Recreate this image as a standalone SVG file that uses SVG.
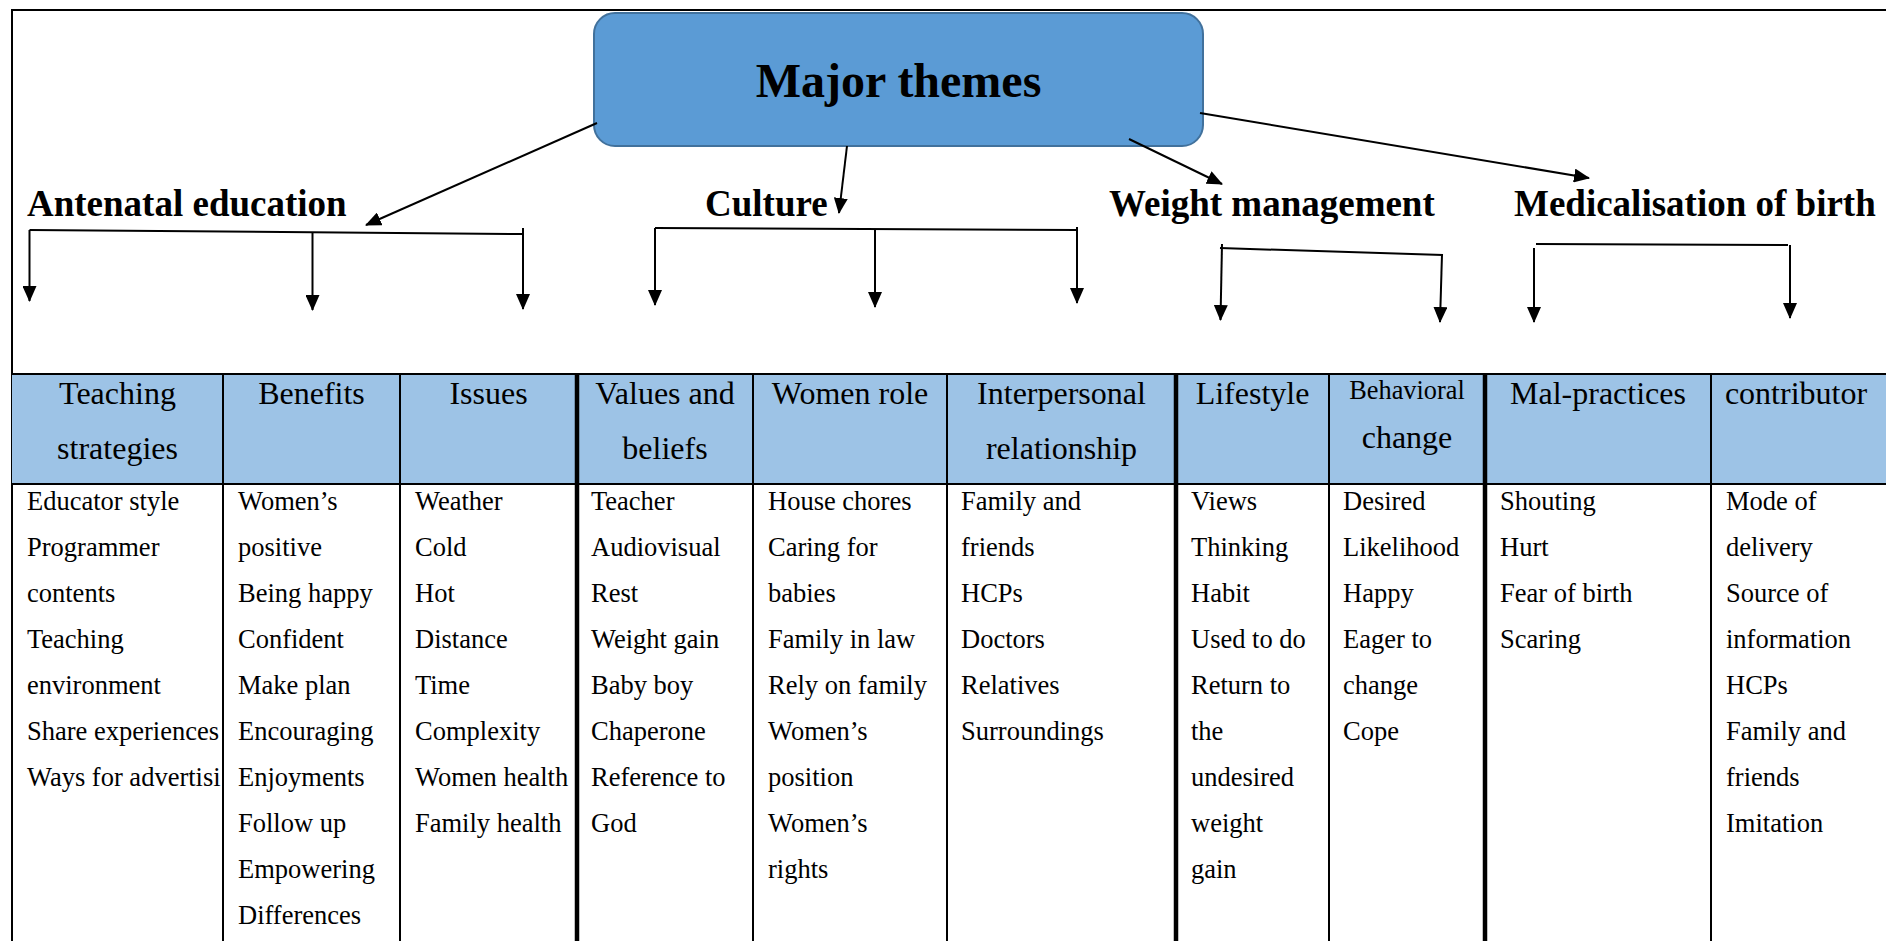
<svg xmlns="http://www.w3.org/2000/svg" width="1886" height="941" viewBox="0 0 1886 941">
<style>
text{font-family:"Liberation Serif","Times New Roman",serif;fill:#000}
.theme{font-size:37px;font-weight:bold}
.hd{font-size:32px;text-anchor:middle}
.bd{font-size:26.5px}
.ln{stroke:#000;stroke-width:2;fill:none}
.thin{stroke:#000;stroke-width:2}
.thick{stroke:#000;stroke-width:4.5}
</style>
<defs>
<marker id="ah" markerUnits="userSpaceOnUse" markerWidth="16" markerHeight="14" viewBox="0 0 16 14" refX="15" refY="7" orient="auto">
<path d="M0,0 L16,7 L0,14 z" fill="#000"/>
</marker>
</defs>
<rect x="0" y="0" width="1886" height="941" fill="#fff"/>
<g id="frame">
<line class="thin" x1="12" y1="10" x2="1886" y2="10"/>
<line class="thin" x1="12" y1="9" x2="12" y2="941"/>
</g>
<g id="major-themes">
<rect x="594" y="13" width="609" height="133" rx="21" ry="21" fill="#5B9BD5" stroke="#41719C" stroke-width="2"/>
<text x="898.5" y="97" font-size="48" font-weight="bold" text-anchor="middle">Major themes</text>
</g>
<g id="theme-antenatal"><text class="theme" x="27" y="216">Antenatal education</text></g>
<g id="theme-culture"><text class="theme" x="705" y="216">Culture</text></g>
<g id="theme-weight"><text class="theme" x="1109" y="216">Weight management</text></g>
<g id="theme-medicalisation"><text class="theme" x="1514" y="216">Medicalisation of birth</text></g>
<g id="connectors">
<path class="ln" d="M597,123 L366,225" marker-end="url(#ah)"/>
<path class="ln" d="M847,146 L839,213" marker-end="url(#ah)"/>
<path class="ln" d="M1129,139 L1222,184" marker-end="url(#ah)"/>
<path class="ln" d="M1200,113 L1589,178" marker-end="url(#ah)"/>
<path class="ln" d="M29.5,230 L523,234"/>
<path class="ln" d="M29.5,230 L29.5,301" marker-end="url(#ah)"/>
<path class="ln" d="M312.5,232.5 L312.5,310" marker-end="url(#ah)"/>
<path class="ln" d="M523,228 L523,309" marker-end="url(#ah)"/>
<path class="ln" d="M655,228 L1077,230"/>
<path class="ln" d="M655,228 L655,305" marker-end="url(#ah)"/>
<path class="ln" d="M875,229 L875,307" marker-end="url(#ah)"/>
<path class="ln" d="M1077,227 L1077,303" marker-end="url(#ah)"/>
<path class="ln" d="M1220,248 L1443,255"/>
<path class="ln" d="M1222,244 L1220.5,320" marker-end="url(#ah)"/>
<path class="ln" d="M1442,254 L1440,322" marker-end="url(#ah)"/>
<path class="ln" d="M1536,244 L1788,245"/>
<path class="ln" d="M1534,248 L1534,322" marker-end="url(#ah)"/>
<path class="ln" d="M1790,245 L1790,318" marker-end="url(#ah)"/>
</g>
<g id="table">
<rect x="12" y="374" width="1874" height="110" fill="#9DC3E6"/>
<line class="thin" x1="12" y1="374" x2="1886" y2="374"/>
<line class="thin" x1="12" y1="484" x2="1886" y2="484"/>
<line class="thin" x1="223" y1="374" x2="223" y2="941"/>
<line class="thin" x1="400" y1="374" x2="400" y2="941"/>
<line class="thick" x1="577" y1="373" x2="577" y2="941"/>
<line class="thin" x1="753" y1="374" x2="753" y2="941"/>
<line class="thin" x1="947" y1="374" x2="947" y2="941"/>
<line class="thick" x1="1176" y1="373" x2="1176" y2="941"/>
<line class="thin" x1="1329" y1="374" x2="1329" y2="941"/>
<line class="thick" x1="1485" y1="373" x2="1485" y2="941"/>
<line class="thin" x1="1711" y1="374" x2="1711" y2="941"/>
</g>
<g id="col-teaching-strategies">
<text class="hd" x="117.5" y="404">Teaching</text>
<text class="hd" x="117.5" y="459">strategies</text>
<text class="bd" x="27" y="510"><tspan x="27">Educator style</tspan><tspan x="27" dy="46">Programmer</tspan><tspan x="27" dy="46">contents</tspan><tspan x="27" dy="46">Teaching</tspan><tspan x="27" dy="46">environment</tspan><tspan x="27" dy="46">Share experiences</tspan><tspan x="27" dy="46">Ways for advertisi</tspan></text>
</g>
<g id="col-benefits">
<text class="hd" x="311.5" y="404">Benefits</text>
<text class="bd" x="238" y="510"><tspan x="238">Women’s</tspan><tspan x="238" dy="46">positive</tspan><tspan x="238" dy="46">Being happy</tspan><tspan x="238" dy="46">Confident</tspan><tspan x="238" dy="46">Make plan</tspan><tspan x="238" dy="46">Encouraging</tspan><tspan x="238" dy="46">Enjoyments</tspan><tspan x="238" dy="46">Follow up</tspan><tspan x="238" dy="46">Empowering</tspan><tspan x="238" dy="46">Differences</tspan></text>
</g>
<g id="col-issues">
<text class="hd" x="488.5" y="404">Issues</text>
<text class="bd" x="415" y="510"><tspan x="415">Weather</tspan><tspan x="415" dy="46">Cold</tspan><tspan x="415" dy="46">Hot</tspan><tspan x="415" dy="46">Distance</tspan><tspan x="415" dy="46">Time</tspan><tspan x="415" dy="46">Complexity</tspan><tspan x="415" dy="46">Women health</tspan><tspan x="415" dy="46">Family health</tspan></text>
</g>
<g id="col-values-beliefs">
<text class="hd" x="665" y="404">Values and</text>
<text class="hd" x="665" y="459">beliefs</text>
<text class="bd" x="591" y="510"><tspan x="591">Teacher</tspan><tspan x="591" dy="46">Audiovisual</tspan><tspan x="591" dy="46">Rest</tspan><tspan x="591" dy="46">Weight gain</tspan><tspan x="591" dy="46">Baby boy</tspan><tspan x="591" dy="46">Chaperone</tspan><tspan x="591" dy="46">Reference to</tspan><tspan x="591" dy="46">God</tspan></text>
</g>
<g id="col-women-role">
<text class="hd" x="850" y="404">Women role</text>
<text class="bd" x="768" y="510"><tspan x="768">House chores</tspan><tspan x="768" dy="46">Caring for</tspan><tspan x="768" dy="46">babies</tspan><tspan x="768" dy="46">Family in law</tspan><tspan x="768" dy="46">Rely on family</tspan><tspan x="768" dy="46">Women’s</tspan><tspan x="768" dy="46">position</tspan><tspan x="768" dy="46">Women’s</tspan><tspan x="768" dy="46">rights</tspan></text>
</g>
<g id="col-interpersonal">
<text class="hd" x="1061.5" y="404">Interpersonal</text>
<text class="hd" x="1061.5" y="459">relationship</text>
<text class="bd" x="961" y="510"><tspan x="961">Family and</tspan><tspan x="961" dy="46">friends</tspan><tspan x="961" dy="46">HCPs</tspan><tspan x="961" dy="46">Doctors</tspan><tspan x="961" dy="46">Relatives</tspan><tspan x="961" dy="46">Surroundings</tspan></text>
</g>
<g id="col-lifestyle">
<text class="hd" x="1252.5" y="404">Lifestyle</text>
<text class="bd" x="1191" y="510"><tspan x="1191">Views</tspan><tspan x="1191" dy="46">Thinking</tspan><tspan x="1191" dy="46">Habit</tspan><tspan x="1191" dy="46">Used to do</tspan><tspan x="1191" dy="46">Return to</tspan><tspan x="1191" dy="46">the</tspan><tspan x="1191" dy="46">undesired</tspan><tspan x="1191" dy="46">weight</tspan><tspan x="1191" dy="46">gain</tspan></text>
</g>
<g id="col-behavioral-change">
<text x="1407" y="399" font-size="26.3" text-anchor="middle">Behavioral</text>
<text class="hd" x="1407" y="448">change</text>
<text class="bd" x="1343" y="510"><tspan x="1343">Desired</tspan><tspan x="1343" dy="46">Likelihood</tspan><tspan x="1343" dy="46">Happy</tspan><tspan x="1343" dy="46">Eager to</tspan><tspan x="1343" dy="46">change</tspan><tspan x="1343" dy="46">Cope</tspan></text>
</g>
<g id="col-mal-practices">
<text class="hd" x="1598" y="404">Mal-practices</text>
<text class="bd" x="1500" y="510"><tspan x="1500">Shouting</tspan><tspan x="1500" dy="46">Hurt</tspan><tspan x="1500" dy="46">Fear of birth</tspan><tspan x="1500" dy="46">Scaring</tspan></text>
</g>
<g id="col-contributor">
<text class="hd" x="1796" y="404">contributor</text>
<text class="bd" x="1726" y="510"><tspan x="1726">Mode of</tspan><tspan x="1726" dy="46">delivery</tspan><tspan x="1726" dy="46">Source of</tspan><tspan x="1726" dy="46">information</tspan><tspan x="1726" dy="46">HCPs</tspan><tspan x="1726" dy="46">Family and</tspan><tspan x="1726" dy="46">friends</tspan><tspan x="1726" dy="46">Imitation</tspan></text>
</g>
</svg>
